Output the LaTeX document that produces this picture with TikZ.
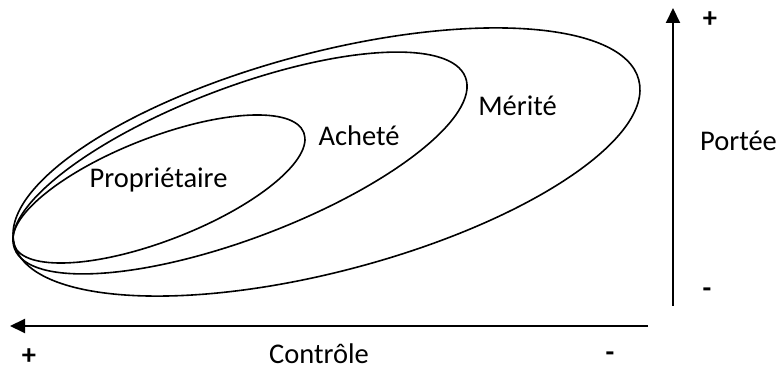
\documentclass[tikz,border=0pt]{standalone}
\usepackage{fontspec}
\setmainfont{Carlito}
\usetikzlibrary{arrows.meta}
\tikzset{
  lbl/.style={inner sep=0pt, anchor=base, font=\fontsize{28.5}{34}\selectfont},
  sgn/.style={inner sep=0pt, anchor=center, font=\fontsize{28.5}{34}\selectfont\bfseries},
  set/.style={line width=1.6pt},
  axis/.style={line width=2pt, -{Triangle[length=15pt,width=14pt]}}
}
\begin{document}
\begin{tikzpicture}[x=1pt,y=1pt]
\useasboundingbox (0,0) rectangle (782,369);
% ellipses
\draw[set, rotate around={14.76:(326.5,207)}] (326.5,207) ellipse (322.9 and 109.5);
\draw[set, rotate around={20.8:(240,206)}] (240,206) ellipse (241.2 and 75.4);
\draw[set, rotate around={21.3:(159,180)}] (159,180) ellipse (155.4 and 51.4);
% labels
\node[lbl] (prop) at (158.5,181) {Propriétaire};
\node[lbl] (achete) at (359,223) {Acheté};
\node[lbl] (merite) at (517.5,253) {Mérité};
\node[lbl] (portee) at (738.5,218) {Portée};
\node[lbl] (controle) at (319,5) {Contrôle};
% axes
\coordinate (vstart) at (673,63);
\coordinate (vend) at (673,361);
\coordinate (hstart) at (648,43);
\coordinate (hend) at (10,43);
\draw[axis] (vstart) -- (vend);
\draw[axis] (hstart) -- (hend);
% signs
\node[sgn] (vplus) at (710,349) {+};
\node[sgn] (vminus) at (707,76) {-};
\node[sgn] (hplus) at (29,12) {+};
\node[sgn] (hminus) at (610,12) {-};
\end{tikzpicture}
\end{document}
